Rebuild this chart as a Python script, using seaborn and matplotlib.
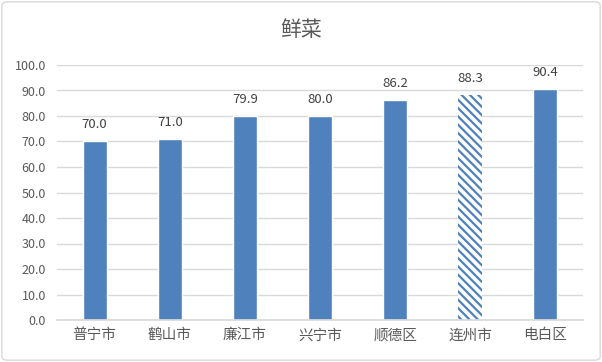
"""Bar chart: 鲜菜 by city, one hatched bar."""
import matplotlib
matplotlib.use("Agg")
import matplotlib.pyplot as plt
import seaborn as sns
from matplotlib.patches import FancyBboxPatch

cities = ["普宁市", "鹤山市", "廉江市", "兴宁市", "顺德区", "连州市", "电白区"]
values = [70.0, 71.0, 79.9, 80.0, 86.2, 88.3, 90.4]
hatched = "连州市"

sns.set_theme(style="white")
plt.rcParams["font.family"] = ["Noto Sans CJK SC", "DejaVu Sans"]
plt.rcParams["hatch.linewidth"] = 1.6

blue = "#4F81BD"
grey = "#595959"

fig = plt.figure(figsize=(6.02, 3.62), dpi=100)
ax = fig.add_axes([57 / 602, 42 / 362, 526 / 602, 255 / 362])

sns.barplot(x=cities, y=values, color=blue, width=0.32, saturation=1, ax=ax)

for bar, city in zip(ax.patches, cities):
    if city == hatched:
        bar.set_facecolor("white")
        bar.set_edgecolor(blue)
        bar.set_hatch("\\\\\\\\")
        bar.set_linewidth(0)

for bar, v in zip(ax.patches, values):
    ax.text(bar.get_x() + bar.get_width() / 2, v + 4, f"{v:.1f}",
            ha="center", va="bottom", fontsize=9.5, color="#404040")

ax.set_ylim(0, 100)
ax.set_yticks(range(0, 101, 10))
ax.set_yticklabels([f"{t:.1f}" for t in range(0, 101, 10)])
ax.yaxis.grid(True, color="#D9D9D9", linewidth=1)
ax.set_axisbelow(True)
for s in ["left", "right", "top"]:
    ax.spines[s].set_visible(False)
ax.spines["bottom"].set_color("#D9D9D9")
ax.tick_params(axis="y", labelsize=9, labelcolor=grey, length=0, pad=8)
ax.tick_params(axis="x", labelsize=10.5, labelcolor=grey, length=0, pad=6)
ax.set_xlim(-0.5, len(cities) - 0.5)

fig.text(0.5, 0.918, "鲜菜", ha="center", va="center", fontsize=15, color=grey)

fig.patches.append(FancyBboxPatch((0.003, 0.005), 0.994, 0.99,
                                  boxstyle="round,pad=0,rounding_size=0.01",
                                  transform=fig.transFigure, fill=False,
                                  edgecolor="#D9D9D9", linewidth=1))

fig.savefig("out.png", dpi=100)
